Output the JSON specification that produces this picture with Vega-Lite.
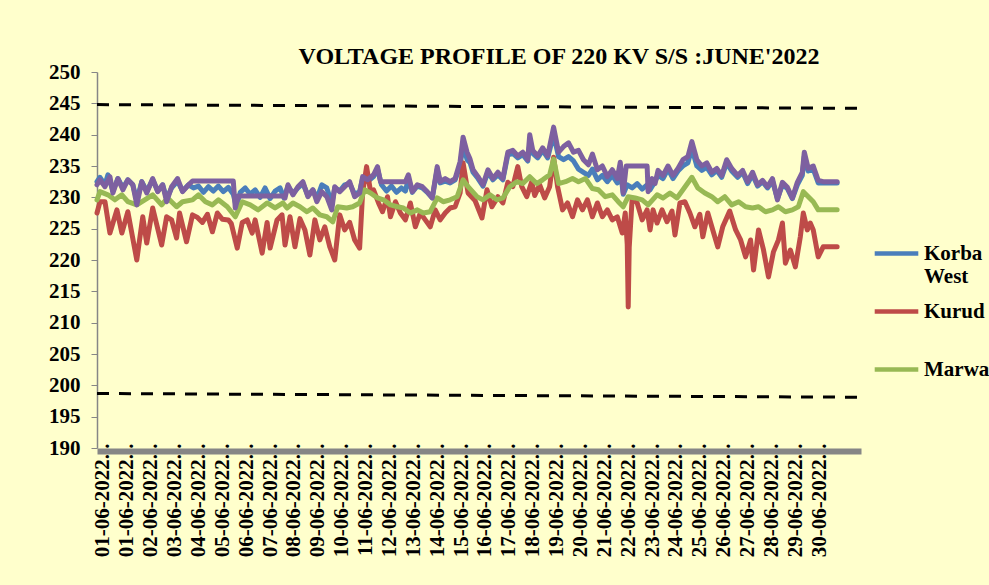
{
"$schema": "https://vega.github.io/schema/vega-lite/v6.json",
"width": 764, "height": 376,
"autosize": {"type": "none"},
"padding": {"left": 97, "top": 72, "right": 128, "bottom": 137},
"background": "#FFFFCC",
"config": {"view": {"stroke": null}, "font": "Liberation Serif"},
"title": {"text": "VOLTAGE PROFILE OF 220 KV S/S :JUNE'2022", "font": "Liberation Serif", "fontSize": 24, "fontWeight": "bold", "color": "black", "anchor": "middle", "frame": "group", "dx": 80, "offset": -8},
"datasets": {
"lim": [{"g":"hi","h":0,"v":244.8},{"g":"hi","h":767,"v":244.2},{"g":"lo","h":0,"v":198.7},{"g":"lo","h":767,"v":198.1}],
"kw": [{"h":0,"v":232.5},{"h":3,"v":233.2},{"h":8,"v":232.0},{"h":11,"v":233.6},{"h":16,"v":231.0},{"h":21,"v":233.0},{"h":26,"v":231.5},{"h":31,"v":232.8},{"h":36,"v":232.0},{"h":40,"v":229.5},{"h":45,"v":232.5},{"h":50,"v":231.0},{"h":56,"v":232.8},{"h":61,"v":231.0},{"h":66,"v":232.0},{"h":70,"v":229.8},{"h":75,"v":231.5},{"h":81,"v":232.6},{"h":86,"v":231.0},{"h":92,"v":232.0},{"h":97,"v":231.5},{"h":102,"v":231.8},{"h":107,"v":230.8},{"h":112,"v":231.7},{"h":117,"v":231.0},{"h":122,"v":231.8},{"h":127,"v":230.9},{"h":132,"v":231.6},{"h":137,"v":230.5},{"h":140,"v":228.5},{"h":144,"v":230.8},{"h":149,"v":231.5},{"h":154,"v":230.5},{"h":159,"v":231.2},{"h":164,"v":230.0},{"h":169,"v":231.5},{"h":174,"v":229.8},{"h":179,"v":231.0},{"h":184,"v":231.5},{"h":188,"v":229.9},{"h":192,"v":231.8},{"h":197,"v":230.6},{"h":202,"v":231.5},{"h":207,"v":232.2},{"h":212,"v":230.3},{"h":217,"v":231.2},{"h":221,"v":229.8},{"h":226,"v":232.0},{"h":231,"v":231.5},{"h":236,"v":229.0},{"h":239,"v":231.5},{"h":244,"v":231.0},{"h":249,"v":232.0},{"h":254,"v":232.2},{"h":259,"v":230.5},{"h":264,"v":230.9},{"h":267,"v":233.0},{"h":272,"v":232.5},{"h":278,"v":233.3},{"h":282,"v":234.5},{"h":286,"v":232.0},{"h":291,"v":231.0},{"h":296,"v":231.8},{"h":301,"v":230.8},{"h":306,"v":231.5},{"h":310,"v":231.0},{"h":313,"v":233.0},{"h":317,"v":230.8},{"h":322,"v":231.8},{"h":327,"v":231.5},{"h":332,"v":230.8},{"h":337,"v":229.9},{"h":342,"v":234.5},{"h":345,"v":232.3},{"h":350,"v":232.6},{"h":355,"v":232.3},{"h":360,"v":232.8},{"h":365,"v":235.0},{"h":368,"v":238.5},{"h":372,"v":236.0},{"h":375,"v":235.5},{"h":378,"v":234.0},{"h":383,"v":233.0},{"h":388,"v":231.8},{"h":393,"v":234.0},{"h":398,"v":232.8},{"h":403,"v":233.6},{"h":408,"v":232.8},{"h":413,"v":236.8},{"h":418,"v":237.0},{"h":423,"v":236.3},{"h":428,"v":236.8},{"h":433,"v":235.8},{"h":435,"v":238.5},{"h":438,"v":237.0},{"h":443,"v":236.3},{"h":448,"v":237.5},{"h":453,"v":236.3},{"h":459,"v":240.0},{"h":464,"v":236.5},{"h":469,"v":236.0},{"h":474,"v":236.5},{"h":479,"v":235.8},{"h":484,"v":234.5},{"h":489,"v":234.0},{"h":494,"v":233.5},{"h":498,"v":234.5},{"h":503,"v":232.8},{"h":508,"v":233.5},{"h":513,"v":232.5},{"h":518,"v":233.5},{"h":523,"v":232.3},{"h":526,"v":234.5},{"h":529,"v":230.5},{"h":533,"v":232.0},{"h":538,"v":231.5},{"h":543,"v":232.2},{"h":548,"v":231.3},{"h":553,"v":232.0},{"h":556,"v":231.2},{"h":559,"v":232.0},{"h":564,"v":233.5},{"h":569,"v":233.0},{"h":574,"v":234.5},{"h":579,"v":233.0},{"h":584,"v":234.2},{"h":589,"v":235.0},{"h":594,"v":235.5},{"h":598,"v":237.8},{"h":603,"v":235.0},{"h":608,"v":234.3},{"h":613,"v":234.8},{"h":618,"v":233.6},{"h":623,"v":234.3},{"h":628,"v":233.2},{"h":633,"v":235.5},{"h":638,"v":234.2},{"h":644,"v":233.2},{"h":649,"v":234.0},{"h":654,"v":232.2},{"h":659,"v":233.6},{"h":664,"v":231.8},{"h":669,"v":232.5},{"h":674,"v":231.5},{"h":679,"v":232.6},{"h":684,"v":229.8},{"h":689,"v":232.0},{"h":694,"v":231.4},{"h":699,"v":229.8},{"h":704,"v":232.0},{"h":709,"v":233.5},{"h":711,"v":236.5},{"h":715,"v":234.2},{"h":720,"v":234.5},{"h":725,"v":232.3},{"h":730,"v":232.3},{"h":744,"v":232.3}],
"ku": [{"h":0,"v":227.5},{"h":3,"v":229.3},{"h":8,"v":229.3},{"h":13,"v":224.3},{"h":20,"v":228.0},{"h":25,"v":224.3},{"h":31,"v":227.7},{"h":40,"v":220.0},{"h":46,"v":226.9},{"h":50,"v":222.7},{"h":56,"v":228.3},{"h":65,"v":222.4},{"h":70,"v":226.9},{"h":75,"v":226.4},{"h":80,"v":223.5},{"h":83,"v":227.5},{"h":90,"v":222.9},{"h":96,"v":227.2},{"h":101,"v":226.8},{"h":106,"v":226.0},{"h":111,"v":227.3},{"h":116,"v":224.5},{"h":121,"v":227.5},{"h":126,"v":226.5},{"h":132,"v":226.4},{"h":135,"v":225.8},{"h":141,"v":221.9},{"h":146,"v":226.0},{"h":151,"v":226.4},{"h":156,"v":224.3},{"h":159,"v":226.4},{"h":166,"v":221.1},{"h":171,"v":226.0},{"h":174,"v":221.9},{"h":181,"v":226.4},{"h":186,"v":227.2},{"h":189,"v":222.4},{"h":194,"v":226.9},{"h":199,"v":222.1},{"h":204,"v":226.6},{"h":209,"v":224.8},{"h":214,"v":220.8},{"h":219,"v":226.4},{"h":224,"v":223.2},{"h":229,"v":225.3},{"h":234,"v":222.1},{"h":239,"v":220.0},{"h":244,"v":227.2},{"h":249,"v":224.8},{"h":254,"v":226.0},{"h":259,"v":223.2},{"h":264,"v":221.9},{"h":267,"v":230.7},{"h":271,"v":234.9},{"h":275,"v":230.9},{"h":278,"v":231.2},{"h":283,"v":229.1},{"h":287,"v":227.7},{"h":292,"v":230.1},{"h":295,"v":226.9},{"h":300,"v":229.3},{"h":305,"v":227.5},{"h":310,"v":226.4},{"h":315,"v":229.1},{"h":320,"v":225.3},{"h":325,"v":227.5},{"h":330,"v":226.4},{"h":335,"v":225.3},{"h":340,"v":228.0},{"h":345,"v":226.4},{"h":350,"v":227.5},{"h":355,"v":228.3},{"h":360,"v":228.5},{"h":365,"v":230.7},{"h":368,"v":235.5},{"h":373,"v":230.7},{"h":380,"v":229.5},{"h":387,"v":226.7},{"h":392,"v":231.2},{"h":397,"v":228.5},{"h":403,"v":230.1},{"h":408,"v":229.1},{"h":413,"v":232.4},{"h":418,"v":231.7},{"h":423,"v":234.9},{"h":427,"v":231.7},{"h":432,"v":230.1},{"h":437,"v":232.5},{"h":440,"v":230.3},{"h":445,"v":232.0},{"h":450,"v":229.9},{"h":455,"v":231.7},{"h":459,"v":236.4},{"h":463,"v":231.7},{"h":468,"v":228.0},{"h":473,"v":229.1},{"h":478,"v":226.9},{"h":483,"v":229.6},{"h":488,"v":228.0},{"h":493,"v":229.6},{"h":498,"v":226.9},{"h":503,"v":229.1},{"h":508,"v":226.9},{"h":513,"v":228.0},{"h":518,"v":226.4},{"h":523,"v":226.9},{"h":528,"v":224.3},{"h":531,"v":227.5},{"h":533,"v":222.5},{"h":534,"v":212.5},{"h":535,"v":222.0},{"h":538,"v":229.9},{"h":543,"v":229.1},{"h":548,"v":226.4},{"h":553,"v":228.0},{"h":556,"v":224.8},{"h":559,"v":228.0},{"h":563,"v":225.9},{"h":568,"v":228.0},{"h":573,"v":226.1},{"h":578,"v":227.8},{"h":581,"v":224.0},{"h":586,"v":229.1},{"h":591,"v":229.3},{"h":596,"v":227.5},{"h":601,"v":225.3},{"h":606,"v":227.3},{"h":609,"v":223.7},{"h":614,"v":227.5},{"h":619,"v":224.8},{"h":624,"v":222.1},{"h":629,"v":225.3},{"h":636,"v":227.8},{"h":642,"v":224.8},{"h":647,"v":223.2},{"h":652,"v":220.5},{"h":657,"v":223.2},{"h":660,"v":218.4},{"h":665,"v":224.8},{"h":670,"v":221.6},{"h":675,"v":217.3},{"h":680,"v":221.3},{"h":685,"v":223.2},{"h":689,"v":225.9},{"h":692,"v":219.5},{"h":697,"v":221.6},{"h":702,"v":218.9},{"h":707,"v":223.7},{"h":710,"v":227.5},{"h":714,"v":224.8},{"h":717,"v":225.9},{"h":720,"v":224.8},{"h":725,"v":220.5},{"h":730,"v":222.1},{"h":744,"v":222.1}],
"ma": [{"h":0,"v":229.6},{"h":3,"v":230.9},{"h":11,"v":230.4},{"h":18,"v":229.6},{"h":25,"v":230.4},{"h":31,"v":229.3},{"h":40,"v":228.8},{"h":48,"v":229.6},{"h":56,"v":230.4},{"h":65,"v":228.8},{"h":71,"v":229.9},{"h":80,"v":228.5},{"h":86,"v":229.3},{"h":96,"v":229.6},{"h":102,"v":230.4},{"h":109,"v":229.3},{"h":116,"v":228.8},{"h":122,"v":229.6},{"h":131,"v":228.5},{"h":139,"v":226.9},{"h":146,"v":229.3},{"h":154,"v":228.8},{"h":162,"v":228.0},{"h":171,"v":229.1},{"h":179,"v":228.3},{"h":187,"v":229.1},{"h":191,"v":228.3},{"h":197,"v":229.1},{"h":204,"v":228.5},{"h":211,"v":227.7},{"h":217,"v":228.3},{"h":224,"v":227.2},{"h":231,"v":226.9},{"h":237,"v":226.1},{"h":242,"v":228.5},{"h":251,"v":228.3},{"h":257,"v":228.5},{"h":264,"v":229.1},{"h":269,"v":231.2},{"h":275,"v":230.7},{"h":282,"v":229.9},{"h":288,"v":229.6},{"h":295,"v":228.8},{"h":302,"v":228.5},{"h":308,"v":228.3},{"h":315,"v":227.5},{"h":322,"v":228.0},{"h":328,"v":227.5},{"h":335,"v":227.7},{"h":342,"v":229.9},{"h":348,"v":229.3},{"h":355,"v":229.6},{"h":362,"v":230.1},{"h":368,"v":232.8},{"h":373,"v":231.7},{"h":382,"v":230.1},{"h":388,"v":229.6},{"h":395,"v":230.4},{"h":402,"v":229.6},{"h":408,"v":229.9},{"h":415,"v":231.7},{"h":422,"v":232.5},{"h":428,"v":232.2},{"h":435,"v":233.3},{"h":442,"v":232.2},{"h":448,"v":232.8},{"h":455,"v":233.6},{"h":459,"v":236.1},{"h":464,"v":232.2},{"h":471,"v":232.5},{"h":478,"v":233.0},{"h":484,"v":232.5},{"h":491,"v":233.0},{"h":498,"v":231.4},{"h":504,"v":231.2},{"h":511,"v":230.1},{"h":518,"v":230.4},{"h":524,"v":229.3},{"h":529,"v":228.5},{"h":534,"v":230.1},{"h":541,"v":229.9},{"h":548,"v":229.6},{"h":554,"v":228.8},{"h":563,"v":230.4},{"h":569,"v":229.9},{"h":576,"v":230.7},{"h":583,"v":229.9},{"h":589,"v":231.2},{"h":598,"v":233.2},{"h":604,"v":231.5},{"h":611,"v":230.7},{"h":618,"v":230.1},{"h":624,"v":229.3},{"h":631,"v":230.1},{"h":638,"v":228.8},{"h":645,"v":229.3},{"h":652,"v":228.5},{"h":659,"v":228.3},{"h":665,"v":228.5},{"h":672,"v":227.7},{"h":679,"v":228.0},{"h":685,"v":228.5},{"h":692,"v":227.7},{"h":699,"v":228.0},{"h":705,"v":228.5},{"h":710,"v":230.9},{"h":715,"v":230.1},{"h":720,"v":229.3},{"h":725,"v":228.0},{"h":730,"v":228.0},{"h":744,"v":228.0}],
"pu": [{"h":0,"v":232.0},{"h":3,"v":232.8},{"h":8,"v":231.7},{"h":13,"v":233.3},{"h":16,"v":230.7},{"h":21,"v":233.0},{"h":26,"v":231.2},{"h":31,"v":232.8},{"h":36,"v":232.0},{"h":40,"v":228.8},{"h":45,"v":232.5},{"h":50,"v":230.7},{"h":56,"v":233.0},{"h":61,"v":230.9},{"h":66,"v":232.0},{"h":70,"v":229.3},{"h":75,"v":231.7},{"h":81,"v":233.0},{"h":86,"v":230.9},{"h":92,"v":232.0},{"h":96,"v":232.6},{"h":137,"v":232.6},{"h":139,"v":228.3},{"h":142,"v":230.2},{"h":187,"v":230.2},{"h":189,"v":229.9},{"h":192,"v":232.0},{"h":197,"v":230.4},{"h":202,"v":231.7},{"h":207,"v":232.5},{"h":212,"v":230.1},{"h":217,"v":231.2},{"h":221,"v":229.3},{"h":226,"v":230.9},{"h":231,"v":230.1},{"h":236,"v":228.0},{"h":239,"v":231.7},{"h":244,"v":230.9},{"h":249,"v":231.7},{"h":254,"v":232.5},{"h":259,"v":230.1},{"h":264,"v":230.7},{"h":267,"v":233.3},{"h":272,"v":232.8},{"h":278,"v":233.6},{"h":282,"v":234.9},{"h":285,"v":232.5},{"h":310,"v":232.5},{"h":313,"v":233.6},{"h":317,"v":230.9},{"h":322,"v":232.0},{"h":327,"v":231.7},{"h":332,"v":230.9},{"h":337,"v":229.9},{"h":342,"v":234.9},{"h":345,"v":232.5},{"h":350,"v":233.0},{"h":355,"v":232.5},{"h":360,"v":233.0},{"h":365,"v":235.7},{"h":368,"v":239.6},{"h":372,"v":237.2},{"h":375,"v":236.1},{"h":378,"v":234.4},{"h":383,"v":233.3},{"h":388,"v":232.0},{"h":393,"v":234.4},{"h":398,"v":233.0},{"h":403,"v":234.0},{"h":408,"v":233.0},{"h":413,"v":237.2},{"h":418,"v":237.5},{"h":423,"v":236.6},{"h":428,"v":237.2},{"h":433,"v":236.0},{"h":435,"v":240.0},{"h":438,"v":237.5},{"h":443,"v":236.6},{"h":448,"v":237.9},{"h":453,"v":236.6},{"h":459,"v":241.2},{"h":464,"v":237.2},{"h":469,"v":238.1},{"h":474,"v":238.7},{"h":479,"v":237.2},{"h":484,"v":237.5},{"h":489,"v":236.0},{"h":494,"v":235.2},{"h":498,"v":236.9},{"h":503,"v":234.4},{"h":508,"v":235.0},{"h":513,"v":233.3},{"h":518,"v":234.4},{"h":523,"v":233.0},{"h":526,"v":235.6},{"h":529,"v":230.7},{"h":532,"v":235.0},{"h":553,"v":235.0},{"h":554,"v":230.9},{"h":558,"v":233.0},{"h":561,"v":232.2},{"h":564,"v":234.3},{"h":569,"v":233.5},{"h":574,"v":235.0},{"h":579,"v":233.5},{"h":584,"v":234.6},{"h":589,"v":236.0},{"h":594,"v":236.5},{"h":598,"v":238.9},{"h":603,"v":236.0},{"h":608,"v":235.0},{"h":613,"v":235.5},{"h":618,"v":234.0},{"h":623,"v":234.6},{"h":628,"v":233.5},{"h":633,"v":236.0},{"h":638,"v":234.6},{"h":644,"v":233.5},{"h":649,"v":234.3},{"h":654,"v":232.5},{"h":659,"v":234.0},{"h":664,"v":232.0},{"h":669,"v":232.7},{"h":674,"v":231.7},{"h":679,"v":233.0},{"h":684,"v":229.6},{"h":689,"v":232.4},{"h":694,"v":231.6},{"h":699,"v":229.9},{"h":704,"v":232.4},{"h":709,"v":234.0},{"h":711,"v":237.2},{"h":715,"v":234.6},{"h":720,"v":235.0},{"h":725,"v":232.7},{"h":730,"v":232.5},{"h":744,"v":232.5}]
},
"encoding": {
"x": {"field": "h", "type": "quantitative", "scale": {"domain": [0, 768], "nice": false, "zero": false},
"axis": {"values": [6,30,54,78,102,126,150,174,198,222,246,270,294,318,342,366,390,414,438,462,486,510,534,558,582,606,630,654,678,702,726],
"labelExpr": "(datum.value < 24 ? '01' : (datum.value < 240 ? '0' : '') + floor(datum.value/24)) + '-06-2022...'",
"labelAngle": 270, "labelAlign": "right", "labelBaseline": "middle", "labelFont": "Liberation Serif", "labelFontSize": 21, "labelFontWeight": "bold", "labelColor": "black", "labelPadding": -8, "labelOverlap": false, "labelBound": false, "labelFlush": false,
"ticks": false, "tickSize": 0, "grid": false, "domainColor": "#868686", "domainWidth": 6, "offset": 3, "title": null}},
"y": {"field": "v", "type": "quantitative", "scale": {"domain": [190, 250], "nice": false, "zero": false},
"axis": {"values": [190,195,200,205,210,215,220,225,230,235,240,245,250], "labelFont": "Liberation Serif", "labelFontSize": 21, "labelFontWeight": "bold", "labelColor": "black", "labelPadding": 11, "tickSize": 6, "tickColor": "#868686", "domainColor": "#868686", "domainWidth": 1.5, "grid": false, "title": null}}
},
"layer": [
{"data": {"name": "lim"}, "mark": {"type": "line", "color": "black", "strokeWidth": 3, "strokeDash": [12, 10]}, "encoding": {"detail": {"field": "g"}}},
{"data": {"name": "kw"}, "mark": {"type": "line", "strokeWidth": 5, "strokeJoin": "round", "strokeCap": "round"},
 "encoding": {"color": {"datum": "Korba West", "type": "nominal", "scale": {"domain": ["Korba West", "Kurud", "Marwa"], "range": ["#4A7EBB", "#BE4B48", "#98B954"]},
 "legend": {"orient": "none", "legendX": 775, "legendY": 157, "title": null, "symbolType": "stroke", "symbolStrokeWidth": 4.5, "symbolSize": 1900, "labelFont": "Liberation Serif", "labelFontSize": 21, "labelFontWeight": "bold", "labelColor": "black", "labelOffset": 3, "labelLimit": 0, "rowPadding": 0, "labelExpr": "datum.label == 'Korba West' ? ['Korba', 'West'] : [datum.label, '']"}}}},
{"data": {"name": "ku"}, "mark": {"type": "line", "strokeWidth": 5, "strokeJoin": "round", "strokeCap": "round"}, "encoding": {"color": {"datum": "Kurud", "type": "nominal"}}},
{"data": {"name": "ma"}, "mark": {"type": "line", "strokeWidth": 5, "strokeJoin": "round", "strokeCap": "round"}, "encoding": {"color": {"datum": "Marwa", "type": "nominal"}}},
{"data": {"name": "pu"}, "mark": {"type": "line", "color": "#7D60A0", "strokeWidth": 5, "strokeJoin": "round", "strokeCap": "round"}, "encoding": {}}
]
}
